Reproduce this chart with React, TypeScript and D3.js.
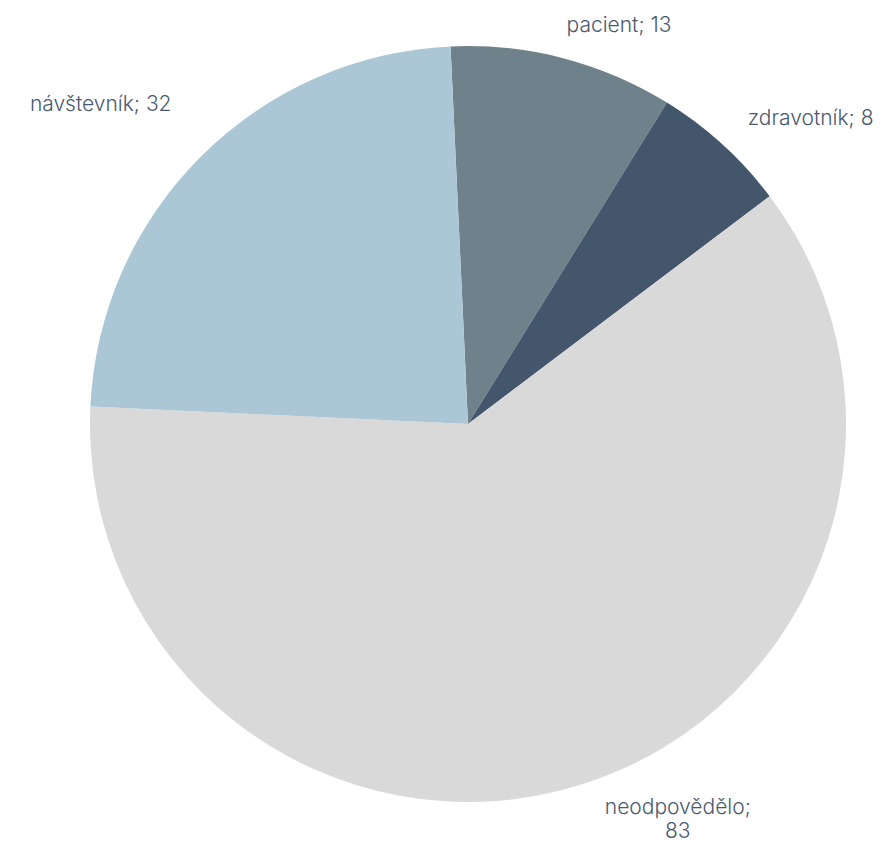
import React from "react";
import * as d3 from "d3";

const categories = ["pacient", "zdravotník", "neodpovědělo", "návštevník"];
const values = [13, 8, 83, 32];
const colors = ["#6f818b", "#44566c", "#d9d9d9", "#abc7d6"];
// label offsets (px) from the arc edge at the slice's mid-angle
const labelOffsets: [number, number][] = [
  [56, -34],
  [88, -28],
  [98, 33],
  [-100, -54],
];
const labelLines: string[][] = [
  ["pacient; 13"],
  ["zdravotník; 8"],
  ["neodpovědělo;", "83"],
  ["návštevník; 32"],
];

const W = 893;
const H = 846;
const CX = 468;
const CY = 424;
const R = 378;
const START = (-2.65 * Math.PI) / 180;

export default function App() {
  const pie = d3
    .pie<number>()
    .sort(null)
    .startAngle(START)
    .endAngle(START + 2 * Math.PI)
    .value((d) => d);
  const arcs = pie(values);
  const arc = d3.arc<d3.PieArcDatum<number>>().innerRadius(0).outerRadius(R);

  return (
    <svg
      width={W}
      height={H}
      style={{ position: "absolute", left: 0, top: 0, display: "block", background: "#fff" }}
    >
      <g transform={`translate(${CX},${CY})`}>
        {arcs.map((a, i) => (
          <path key={categories[i]} d={arc(a) || ""} fill={colors[i]} />
        ))}
        {arcs.map((a, i) => {
          const mid = (a.startAngle + a.endAngle) / 2;
          const x = R * Math.sin(mid) + labelOffsets[i][0];
          const y = -R * Math.cos(mid) + labelOffsets[i][1];
          const lines = labelLines[i];
          const lh = 24;
          return (
            <text
              key={"l" + i}
              x={x}
              y={y - ((lines.length - 1) * lh) / 2}
              textAnchor="middle"
              dominantBaseline="central"
              fontFamily="Inter, 'Open Sans', sans-serif"
              fontSize={21}
              fontWeight={300}
              fill="#4a5a6e"
            >
              {lines.map((ln, j) => (
                <tspan key={j} x={x} dy={j === 0 ? 0 : lh}>
                  {ln}
                </tspan>
              ))}
            </text>
          );
        })}
      </g>
    </svg>
  );
}
